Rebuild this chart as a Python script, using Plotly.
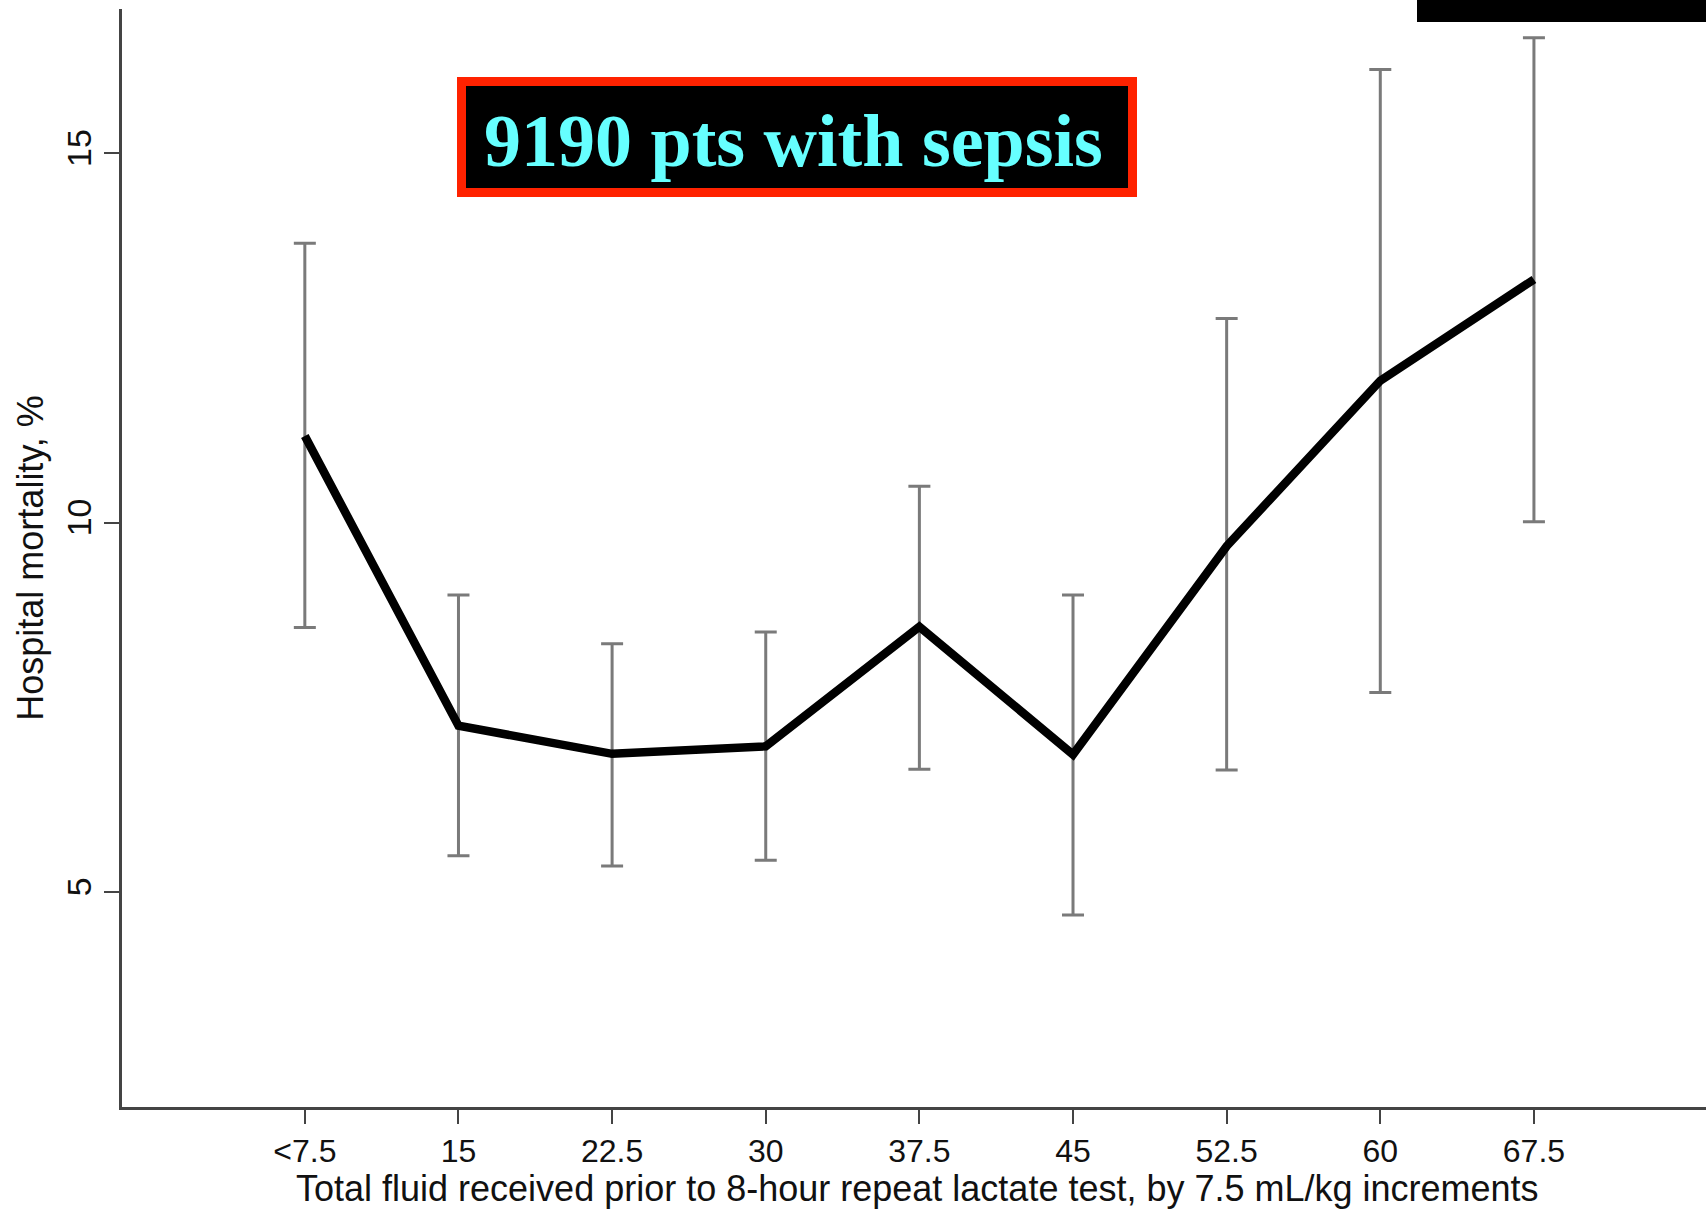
import plotly.graph_objects as go

categories = ["<7.5", "15", "22.5", "30", "37.5", "45", "52.5", "60", "67.5"]
mortality = [11.17, 7.25, 6.87, 6.97, 8.59, 6.86, 9.68, 11.92, 13.29]
ci_upper = [13.78, 9.02, 8.36, 8.52, 10.49, 9.02, 12.76, 16.13, 16.56]
ci_lower = [8.58, 5.49, 5.35, 5.43, 6.66, 4.69, 6.65, 7.70, 10.01]
y_ticks = [5, 10, 15]
x_title = "Total fluid received prior to 8-hour repeat lactate test, by 7.5 mL/kg increments"
y_title = "Hospital mortality, %"

x_idx = list(range(len(categories)))
err_plus = [u - m for u, m in zip(ci_upper, mortality)]
err_minus = [m - l for m, l in zip(mortality, ci_lower)]

W, H = 1706, 1210
L, R, T, B = 122, 0, 9, 103
pw, ph = W - L - R, H - T - B

def px_x(px):
    return (px - L) / pw

def px_y(py):
    return (H - B - py) / ph

fig = go.Figure()
fig.add_trace(go.Scatter(
    x=x_idx, y=mortality, mode="lines",
    line=dict(color="black", width=8.5),
    error_y=dict(type="data", symmetric=False, array=err_plus, arrayminus=err_minus,
                 color="#7a7a7a", thickness=3, width=11),
    showlegend=False, hoverinfo="skip",
))

font_fam = "Liberation Sans Narrow, Liberation Sans, Arial"
tick_font = dict(family=font_fam, size=32, color="#111")
title_font = dict(family=font_fam, size=36, color="#111")

fig.update_layout(
    width=W, height=H,
    margin=dict(l=L, r=R, t=T, b=B, pad=0),
    paper_bgcolor="white", plot_bgcolor="white",
    xaxis=dict(
        range=[-1.19, 9.12], tickmode="array", tickvals=x_idx, ticktext=categories,
        showgrid=False, zeroline=False, showline=True, linecolor="#444", linewidth=2.5,
        ticks="outside", ticklen=14, tickwidth=1.5, tickcolor="#444",
        tickfont=tick_font,
    ),
    yaxis=dict(
        range=[2.09, 16.95], tickmode="array", tickvals=y_ticks, ticktext=[str(v) for v in y_ticks],
        showgrid=False, zeroline=False, showline=True, linecolor="#444", linewidth=2.5,
        ticks="outside", ticklen=15, tickwidth=1.5, tickcolor="#444",
        tickangle=-90, tickfont=dict(family=font_fam, size=34, color="#111"),
        title=dict(text=y_title, font=title_font, standoff=6),
    ),
)

# x-axis title placed under tick labels
fig.add_annotation(xref="paper", yref="paper", x=px_x(917), y=px_y(1188),
                   text=x_title, showarrow=False, font=title_font,
                   xanchor="center", yanchor="middle")

# annotation box
fig.add_shape(type="rect", xref="paper", yref="paper",
              x0=px_x(461.5), x1=px_x(1132.5), y0=px_y(192.5), y1=px_y(81.5),
              line=dict(color="#ff2200", width=9), fillcolor="black", layer="above")
fig.add_annotation(xref="paper", yref="paper", x=px_x(793), y=px_y(141),
                   text="<b>9190 pts with sepsis</b>", showarrow=False,
                   font=dict(family="Liberation Serif, Times New Roman, serif", size=74, color="#66ffff"),
                   xanchor="center", yanchor="middle")

# top-right black strip
fig.add_shape(type="rect", xref="paper", yref="paper",
              x0=px_x(1417), x1=px_x(1706), y0=px_y(22), y1=px_y(0),
              line=dict(width=0), fillcolor="black", layer="above")

fig.write_html("out.html")
